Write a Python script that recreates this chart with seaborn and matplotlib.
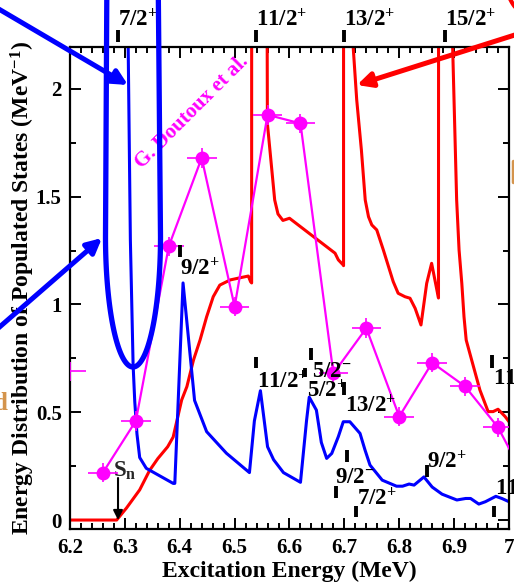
import numpy as np
import pandas as pd
import matplotlib
matplotlib.use("Agg")
import matplotlib.pyplot as plt
import seaborn as sns
from matplotlib.lines import Line2D
from matplotlib.patches import FancyArrowPatch
from matplotlib.ticker import MultipleLocator
from matplotlib.transforms import IdentityTransform

# ---- calculated distribution, spin 13/2+ band (red) ----
red_energy = [6.200, 6.285, 6.303, 6.327, 6.345, 6.360, 6.378, 6.388, 6.4035, 6.413,
              6.425, 6.437, 6.449, 6.461, 6.473, 6.492, 6.510, 6.525, 6.529, 6.531,
              6.532, 6.5597, 6.573, 6.579, 6.588, 6.600, 6.683, 6.689, 6.698, 6.6985,
              6.699, 6.716, 6.7225, 6.731, 6.738, 6.744, 6.750, 6.759, 6.771, 6.789,
              6.798, 6.8105, 6.8196, 6.829, 6.8396, 6.850, 6.859, 6.871, 6.8715, 6.875,
              6.8973, 6.9046, 6.909, 6.914, 6.918, 6.922, 6.932, 6.947, 6.962, 6.971,
              6.980, 6.993, 7.000]
red_density = [0.0, 0.0, 0.056, 0.14, 0.23, 0.285, 0.34, 0.385, 0.557, 0.619,
               0.742, 0.835, 0.943, 1.036, 1.09, 1.114, 1.124, 1.132, 1.106, 1.10,
               30.0, 1.84, 1.485, 1.42, 1.39, 1.40, 1.238, 1.207, 1.183, 1.18,
               30.0, 2.196, 1.949, 1.717, 1.485, 1.407, 1.369, 1.346, 1.253, 1.106,
               1.052, 1.036, 1.029, 0.982, 0.905, 1.098, 1.191, 1.036, 1.03,
               30.0, 2.196, 1.485, 1.253, 1.098, 0.943, 0.835, 0.742, 0.603, 0.503, 0.503,
               0.514, 0.48, 0.456]

# ---- calculated distribution, spin 7/2+ band (blue) ----
blue_energy = [6.3045, 6.306, 6.310, 6.315, 6.318, 6.322, 6.327, 6.339, 6.388, 6.391,
               6.406, 6.427, 6.449, 6.485, 6.527, 6.536, 6.547, 6.560, 6.571, 6.589,
               6.620, 6.631, 6.636, 6.649, 6.658, 6.6677, 6.677, 6.689, 6.698, 6.710,
               6.7285, 6.7376, 6.7467, 6.769, 6.795, 6.806, 6.818, 6.827, 6.845, 6.860,
               6.878, 6.891, 6.905, 6.921, 6.930, 6.945, 6.957, 6.976, 6.987, 7.000]
blue_density = [5.0, 2.2, 1.3, 0.72, 0.55, 0.40, 0.29, 0.24, 0.17, 0.17,
                1.10, 0.555, 0.41, 0.31, 0.22, 0.46, 0.60, 0.34, 0.28, 0.22,
                0.175, 0.46, 0.57, 0.51, 0.36, 0.286, 0.309, 0.387, 0.456, 0.456,
                0.402, 0.325, 0.255, 0.185, 0.157, 0.157, 0.167, 0.162, 0.20, 0.153,
                0.12, 0.107, 0.093, 0.10, 0.10, 0.074, 0.085, 0.11, 0.10, 0.085]

# ---- G. Doutoux et al. measurement ----
exp_energy = [6.26, 6.32, 6.38, 6.44, 6.50, 6.56, 6.62, 6.68, 6.74, 6.80, 6.86, 6.92, 6.98, 7.04]
exp_density = [0.22, 0.46, 1.27, 1.68, 0.99, 1.88, 1.84, 0.68, 0.89, 0.48, 0.73, 0.62, 0.43, 0.14]
exp_xerr = 0.027
exp_yerr = 0.045
edge_energy = [6.20]
edge_density = [0.69]

# ---- level markers: (energy, marker bottom, marker top) ----
level_e = [6.4005, 6.539, 6.628, 6.639, 6.699, 6.705, 6.685, 6.721, 6.8506, 6.9727, 6.969]
level_lo = [1.220, 0.705, 0.664, 0.742, 0.580, 0.269, 0.102, 0.014, 0.200, 0.014, 0.705]
level_hi = [1.276, 0.756, 0.705, 0.798, 0.640, 0.325, 0.158, 0.065, 0.255, 0.065, 0.766]
level_text = ["9/2$^{+}$", "11/2$^{+}$", "5/2$^{-}$", "5/2$^{+}$", "13/2$^{+}$",
              "9/2$^{-}$", "7/2$^{+}$", "9/2$^{+}$", "11/2$^{+}$", "11/2$^{+}$"]
level_text_x = [6.4005, 6.541, 6.641, 6.632, 6.701, 6.683, 6.723, 6.8506, 6.9745, 6.971]
level_text_y = [1.137, 0.6125, 0.664, 0.571, 0.501, 0.172, 0.070, 0.241, 0.116, 0.626]

top_level_e = [6.2875, 6.539, 6.699, 6.8834]
top_level_text = ["7/2$^{+}$", "11/2$^{+}$", "13/2$^{+}$", "15/2$^{+}$"]

x_ticks = [6.2, 6.3, 6.4, 6.5, 6.6, 6.7, 6.8, 6.9, 7.0]
x_ticklabels = ["6.2", "6.3", "6.4", "6.5", "6.6", "6.7", "6.8", "6.9", "7"]
y_ticks = [0, 0.5, 1, 1.5, 2]
y_ticklabels = ["0", "0.5", "1", "1.5", "2"]

sn_energy = 6.2875

sns.set_theme(style="ticks")
plt.rcParams.update({
    "font.family": ["Liberation Serif", "DejaVu Serif"],
    "font.weight": "bold",
    "axes.labelweight": "bold",
    "mathtext.fontset": "custom",
    "mathtext.rm": "Liberation Serif:bold",
    "mathtext.it": "Liberation Serif:bold",
    "mathtext.bf": "Liberation Serif:bold",
    "mathtext.default": "rm",
})

W, H = 514, 582
fig = plt.figure(figsize=(W / 100, H / 100), dpi=100)
ax = fig.add_axes([70 / W, (H - 529.3) / H, 439 / W, (529.3 - 46.7) / H])

RED, BLUE, MAG, TAN = "#ff0000", "#0000ff", "#ff00ff", "#d4944c"

red_df = pd.DataFrame({"E": red_energy, "D": red_density})
blue_df = pd.DataFrame({"E": blue_energy, "D": blue_density})
exp_df = pd.DataFrame({"E": exp_energy, "D": exp_density})

sns.lineplot(data=red_df, x="E", y="D", sort=False, estimator=None, color=RED,
             lw=2.2, ax=ax, legend=False)
sns.lineplot(data=blue_df, x="E", y="D", sort=False, estimator=None, color=BLUE,
             lw=2.2, ax=ax, legend=False)

ax.errorbar(exp_energy, exp_density, xerr=exp_xerr, yerr=exp_yerr, fmt="none",
            ecolor=MAG, elinewidth=1.2, capsize=0, zorder=4)
ax.errorbar(edge_energy, edge_density, xerr=0.03, yerr=exp_yerr, fmt="none",
            ecolor=MAG, elinewidth=1.2, capsize=0, zorder=4)
sns.lineplot(data=exp_df, x="E", y="D", sort=False, estimator=None, color=MAG,
             lw=1.6, marker="o", markersize=10, markeredgewidth=0, ax=ax,
             legend=False, zorder=5)

ax.set_xlim(6.2, 7.0)
ax.set_ylim(-0.043, 2.196)
ax.set_xticks(x_ticks)
ax.set_xticklabels(x_ticklabels)
ax.set_yticks(y_ticks)
ax.set_yticklabels(y_ticklabels)
ax.xaxis.set_minor_locator(MultipleLocator(0.02))
ax.yaxis.set_minor_locator(MultipleLocator(0.25))
ax.tick_params(which="both", direction="in", top=True, right=True, width=1.4,
               color="black", labelsize=15, labelcolor="black")
ax.tick_params(which="major", length=8, pad=6)
ax.tick_params(which="minor", length=4)
for s in ax.spines.values():
    s.set_linewidth(1.6)
    s.set_color("black")
ax.set_xlabel("Excitation Energy (MeV)", fontsize=17, labelpad=2, color="black")
ax.set_ylabel("Energy Distribution of Populated States (MeV$^{-1}$)", fontsize=17,
              color="black")
ax.yaxis.set_label_coords(-33 / 439, 0.5)

# level markers and spin labels inside the frame
ax.vlines(level_e, level_lo, level_hi, colors="black", lw=2.8, zorder=6)
for t, tx, ty in zip(level_text, level_text_x, level_text_y):
    ax.text(tx, ty, t, fontsize=16.5, ha="left", va="baseline", color="black", zorder=7)

# level markers above the frame
ax.vlines(top_level_e, 2.218, 2.274, colors="black", lw=2.8, clip_on=False)
for t, tx in zip(top_level_text, top_level_e):
    ax.text(tx, 2.292, t, fontsize=16.5, ha="left", va="baseline", color="black",
            clip_on=False)

# neutron separation energy
ax.text(6.279, 0.2, "S$_{\\rm n}$", fontsize=16.5, ha="left", va="baseline")
ax.annotate("", xy=(sn_energy, 0.0), xytext=(sn_energy, 0.195),
            arrowprops=dict(arrowstyle="-|>", color="black", lw=1.5,
                            mutation_scale=14, shrinkA=0, shrinkB=0), zorder=6)

ax.text(6.4223, 1.893, "G. Doutoux et al.", color=MAG, fontsize=15, rotation=45,
        ha="center", va="center", rotation_mode="anchor")

# ---- figure-level annotations (pixel coordinates, origin bottom-left) ----
px = IdentityTransform()


def arrow(tail, head, color):
    a = FancyArrowPatch(tail, head, transform=px, arrowstyle="-|>",
                        mutation_scale=22, lw=3.6, color=color,
                        shrinkA=0, shrinkB=0)
    fig.add_artist(a)


arrow((-20, H + 2), (128, H - 85), BLUE)
arrow((-20, H - 344), (102, H - 238), BLUE)
arrow((540, H - 27), (357, H - 85), RED)

# U-shaped outline around the 7/2+ resonance: straight sides, half-ellipse bottom
cx, half_w, bottom, depth = 133.0, 27.5, 367.0, 130.0
theta = np.linspace(np.pi, 2 * np.pi, 120)
ell_x = cx + half_w * np.cos(theta)
ell_y = (bottom - depth) - depth * np.sin(theta)
ux = np.concatenate([[cx - half_w + 1.5], ell_x, [cx + half_w - 2.5]])
uy = np.concatenate([[-40], ell_y, [-40]])
fig.add_artist(Line2D(ux, H - uy, transform=px, color=BLUE, lw=3.8))

# red outline arc at the upper right corner
theta = np.linspace(0, 2 * np.pi, 200)
fig.add_artist(Line2D(570 + 63 * np.cos(theta), H - (-15 + 45 * np.sin(theta)),
                      transform=px, color=RED, lw=3.0))

# fragments of neighbouring annotations
fig.text(8 / W, (H - 410) / H, "d", color=TAN, fontsize=18, ha="right", va="baseline")
fig.add_artist(Line2D([513, 513], [H - 161, H - 182], transform=px, color=TAN, lw=2.5))

fig.savefig("out.png", dpi=100)
